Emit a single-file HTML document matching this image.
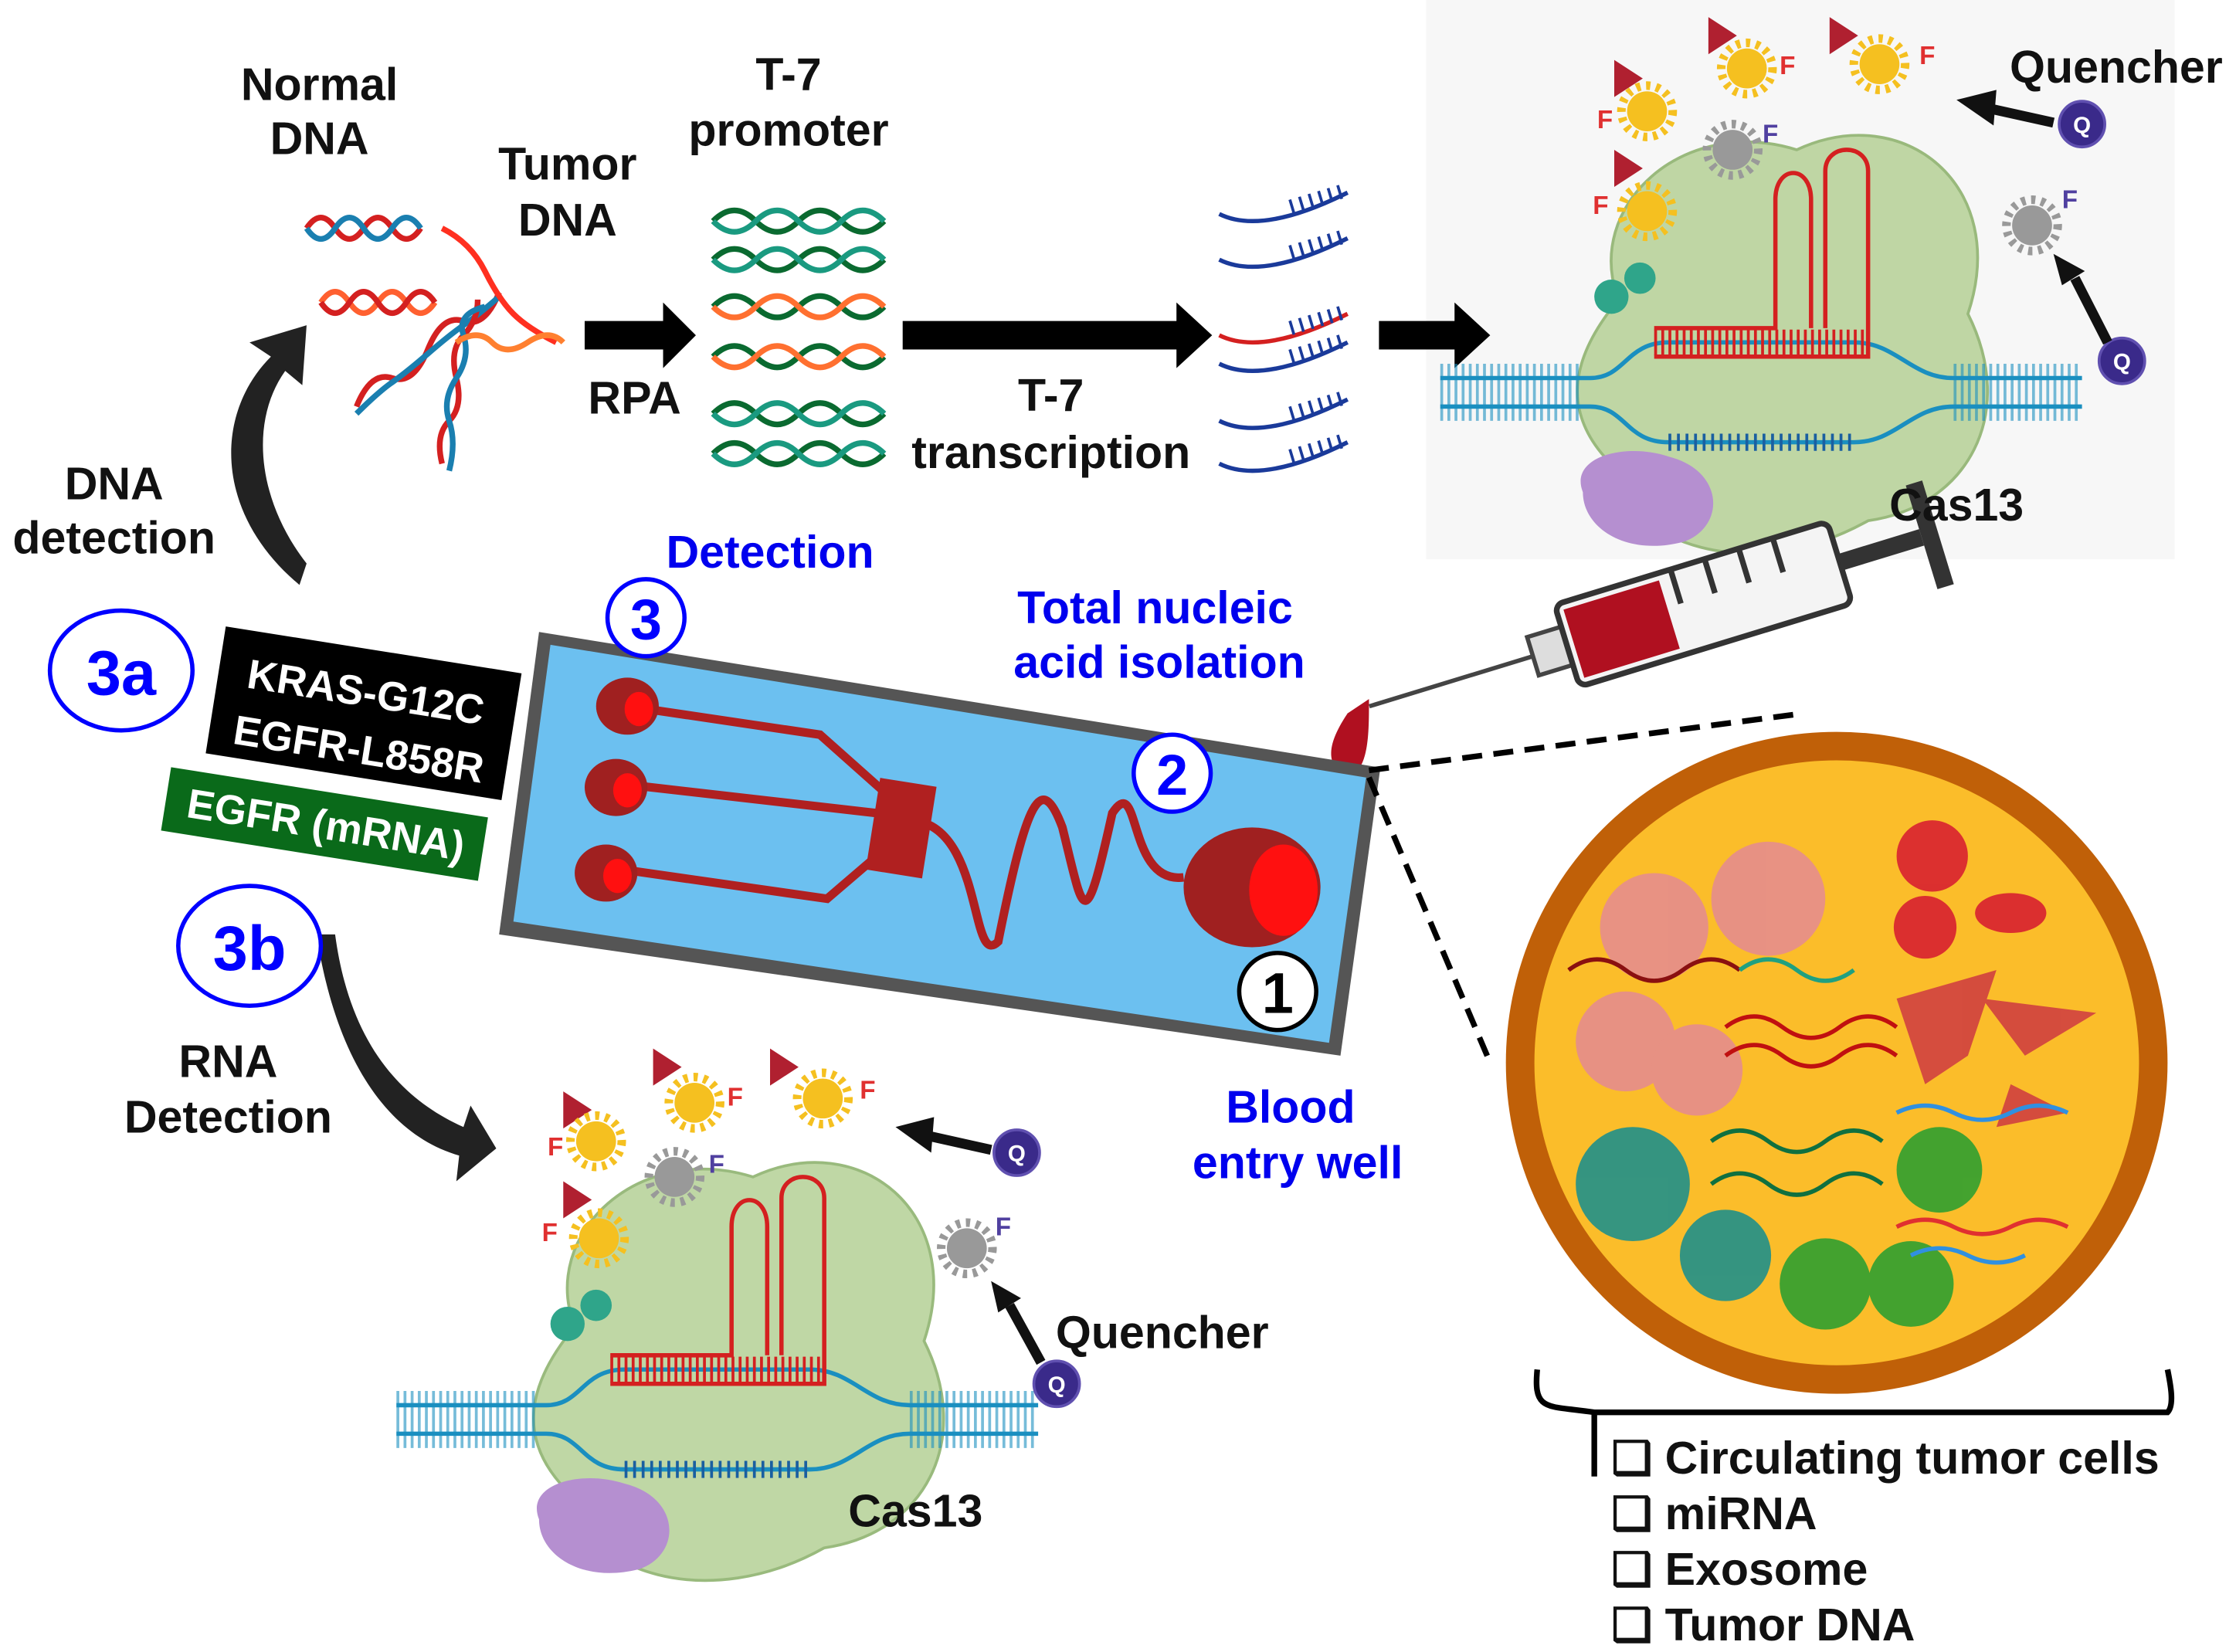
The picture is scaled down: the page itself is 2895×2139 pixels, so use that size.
<!DOCTYPE html>
<html><head><meta charset="utf-8"><style>
html,body{margin:0;padding:0;background:#fff}
svg{display:block}
text{font-family:"Liberation Sans",sans-serif;font-weight:bold}
</style></head><body>
<svg width="2895" height="2139" viewBox="0 0 1568 1158" preserveAspectRatio="none" xmlns="http://www.w3.org/2000/svg">
<defs>
<g id="cas">
  <path d="M125,150 C100,85 170,20 250,45 C325,10 400,70 370,160 C405,230 370,295 300,305 C220,350 130,325 115,260 C80,220 100,180 125,150Z" fill="#b9d39c" stroke="#8fb36f" stroke-width="2" opacity="0.9"/>
  <path d="M0,205 L105,205 C130,205 130,180 160,180 L290,180 C320,180 330,205 360,205 L450,205" fill="none" stroke="#1a8fc0" stroke-width="3"/>
  <path d="M0,225 L105,225 C130,225 130,250 160,250 L290,250 C320,250 330,225 360,225 L450,225" fill="none" stroke="#1a8fc0" stroke-width="3"/>
  <path d="M0,205 h100 M0,225 h100 M360,205 h90 M360,225 h90" stroke="#1a8fc0" stroke-width="20" stroke-dasharray="2,3" fill="none" opacity="0.6"/>
  <path d="M160,250 h130" stroke="#1a5fa0" stroke-width="12" stroke-dasharray="2,4" fill="none"/>
  <path d="M150,190 L300,190 L300,60 C300,40 270,40 270,60 L270,170 M260,170 L260,80 C260,55 235,55 235,80 L235,170 L150,170" fill="none" stroke="#d42020" stroke-width="3"/>
  <path d="M150,180 h150" stroke="#d42020" stroke-width="18" stroke-dasharray="2,3"/>
  <path d="M100,285 C90,260 130,250 160,260 C200,270 200,310 170,320 C130,330 100,310 100,285Z" fill="#b58fd0"/>
  <circle cx="120" cy="148" r="12" fill="#2fa58a"/><circle cx="140" cy="135" r="11" fill="#2fa58a"/>
</g>
<g id="flu"><circle r="14" fill="#f5c020"/><circle r="18" fill="none" stroke="#f5c020" stroke-width="6" stroke-dasharray="3,4"/></g>
<g id="gra"><circle r="14" fill="#999"/><circle r="18" fill="none" stroke="#999" stroke-width="6" stroke-dasharray="3,4"/></g>
<g id="q"><circle r="16" fill="#3a2a8a" stroke="#6050b0" stroke-width="2"/><text y="6" text-anchor="middle" font-size="16" fill="#fff">Q</text></g>
</defs>

<rect x="1000" y="0" width="525" height="392" fill="#f7f7f7"/>

<!-- top DNA -->
<g fill="none" stroke-width="4">
<path d="M215,160 q10,-15 20,0 t20,0 t20,0 t20,0" stroke="#d42020"/>
<path d="M215,160 q10,15 20,0 t20,0 t20,0 t20,0" stroke="#1a7fb0"/>
<path d="M225,212 q10,-15 20,0 t20,0 t20,0 t20,0" stroke="#ff6030"/>
<path d="M225,212 q10,15 20,0 t20,0 t20,0 t20,0" stroke="#d42020"/>
<path d="M250,285 q10,-25 25,-20 t25,-20 t25,-20 t25,-20" stroke="#d42020"/>
<path d="M250,290 q15,-15 25,-22 t25,-20 t25,-20 t25,-20" stroke="#1a7fb0"/>
<path d="M310,325 q-5,-20 5,-30 t5,-30 t5,-30 t10,-25" stroke="#d42020"/>
<path d="M315,330 q5,-20 0,-35 t5,-30 t5,-30 t15,-20" stroke="#1a7fb0"/>
<path d="M310,160 q20,10 30,30 t20,30 t30,20" stroke="#ff3020"/>
<path d="M320,240 q15,-10 25,0 t25,0 t25,0" stroke="#ff8030"/>
</g>
<g fill="none" stroke-width="4">
<path d="M500,155 q15,-15 30,0 t30,0 t30,0 t30,0" stroke="#0a6a30"/><path d="M500,155 q15,15 30,0 t30,0 t30,0 t30,0" stroke="#1a9a80"/>
<path d="M500,182 q15,-15 30,0 t30,0 t30,0 t30,0" stroke="#0a6a30"/><path d="M500,182 q15,15 30,0 t30,0 t30,0 t30,0" stroke="#1a9a80"/>
<path d="M500,215 q15,-15 30,0 t30,0 t30,0 t30,0" stroke="#0a6a30"/><path d="M500,215 q15,15 30,0 t30,0 t30,0 t30,0" stroke="#ff7030"/>
<path d="M500,250 q15,-15 30,0 t30,0 t30,0 t30,0" stroke="#0a6a30"/><path d="M500,250 q15,15 30,0 t30,0 t30,0 t30,0" stroke="#ff7030"/>
<path d="M500,290 q15,-15 30,0 t30,0 t30,0 t30,0" stroke="#0a6a30"/><path d="M500,290 q15,15 30,0 t30,0 t30,0 t30,0" stroke="#1a9a80"/>
<path d="M500,318 q15,-15 30,0 t30,0 t30,0 t30,0" stroke="#0a6a30"/><path d="M500,318 q15,15 30,0 t30,0 t30,0 t30,0" stroke="#1a9a80"/>
</g>
<g fill="none" stroke="#1a3a9a" stroke-width="3">
<path d="M855,150 q30,15 90,-15"/><path d="M855,182 q30,15 90,-15"/><path d="M855,235 q30,15 90,-15" stroke="#d42020"/><path d="M855,255 q30,15 90,-15"/><path d="M855,295 q30,15 90,-15"/><path d="M855,325 q30,15 90,-15"/>
</g>
<g stroke="#1a3a9a" stroke-width="10" stroke-dasharray="2,5" fill="none"><path d="M905,145 l40,-12"/><path d="M905,177 l40,-12"/><path d="M905,230 l40,-12"/><path d="M905,250 l40,-12"/><path d="M905,290 l40,-12"/><path d="M905,320 l40,-12"/></g>
<!-- arrows -->
<polygon points="410,225 465,225 465,212 488,235 465,258 465,245 410,245" fill="#000"/>
<polygon points="633,225 825,225 825,212 850,235 825,258 825,245 633,245" fill="#000"/>
<polygon points="967,225 1020,225 1020,212 1045,235 1020,258 1020,245 967,245" fill="#000"/>
<path d="M210,410 C150,360 150,290 190,250 L175,240 L215,228 L212,270 L200,260 C175,295 180,350 215,395 Z" fill="#222"/>
<path d="M235,655 C245,730 280,770 325,790 L330,775 L348,805 L320,828 L322,810 C270,795 235,740 222,655 Z" fill="#222"/>

<use href="#cas" x="1010" y="60"/>
<use href="#cas" x="278" y="780"/>

<g fill="#b02030">
<polygon points="1132,42 1152,55 1132,68"/><polygon points="1132,105 1152,118 1132,131"/><polygon points="1198,12 1218,25 1198,38"/><polygon points="1283,12 1303,25 1283,38"/>
<polygon points="395,765 415,778 395,791"/><polygon points="395,828 415,841 395,854"/><polygon points="458,735 478,748 458,761"/><polygon points="540,735 560,748 540,761"/>
</g>
<use href="#flu" x="1155" y="78"/><use href="#flu" x="1225" y="48"/><use href="#flu" x="1318" y="45"/><use href="#flu" x="1155" y="148"/><use href="#gra" x="1215" y="105"/><use href="#gra" x="1425" y="158"/>
<use href="#flu" x="418" y="800"/><use href="#flu" x="487" y="773"/><use href="#flu" x="577" y="770"/><use href="#flu" x="420" y="868"/><use href="#gra" x="473" y="825"/><use href="#gra" x="678" y="875"/>
<g font-size="18" fill="#e03030"><text x="1120" y="90">F</text><text x="1248" y="52">F</text><text x="1346" y="45">F</text><text x="1117" y="150">F</text><text x="384" y="810">F</text><text x="510" y="775">F</text><text x="603" y="770">F</text><text x="380" y="870">F</text></g>
<g font-size="18" fill="#5040a0"><text x="1236" y="100">F</text><text x="1446" y="146">F</text><text x="497" y="822">F</text><text x="698" y="866">F</text></g>
<use href="#q" x="1460" y="87"/><use href="#q" x="1488" y="253"/><use href="#q" x="713" y="808"/><use href="#q" x="741" y="970"/>
<g stroke="#111" stroke-width="7" fill="#111">
<line x1="1440" y1="86" x2="1395" y2="76"/><polygon points="1372,70 1400,63 1398,88" stroke="none"/>
<line x1="1478" y1="240" x2="1455" y2="195"/><polygon points="1440,178 1462,190 1446,200" stroke="none"/>
<line x1="695" y1="806" x2="650" y2="796"/><polygon points="628,790 655,783 653,808" stroke="none"/>
<line x1="730" y1="955" x2="708" y2="915"/><polygon points="695,898 716,910 700,920" stroke="none"/>
</g>

<!-- syringe -->
<g transform="translate(1075,460) rotate(-17)">
<line x1="-120" y1="0" x2="0" y2="0" stroke="#444" stroke-width="3"/>
<rect x="0" y="-14" width="25" height="28" fill="#ddd" stroke="#444" stroke-width="3"/>
<rect x="25" y="-30" width="200" height="60" rx="6" fill="#f4f4f4" stroke="#333" stroke-width="4"/>
<rect x="30" y="-25" width="70" height="50" fill="#b01020"/>
<path d="M110,-30 v25 M135,-30 v25 M160,-30 v25 M185,-30 v25" stroke="#333" stroke-width="4"/>
<rect x="225" y="-6" width="60" height="12" fill="#333"/>
<rect x="285" y="-38" width="12" height="76" fill="#333"/>
</g>
<path d="M945,500 C935,515 925,535 945,545 C960,540 960,515 960,490 Z" fill="#b01020"/>

<!-- chip -->
<polygon points="378,443 968,538 940,740 350,655" fill="#555"/>
<polygon points="386,452 958,545 932,731 360,646" fill="#6cc0f0"/>
<g fill="none" stroke="#b02020" stroke-width="6">
<path d="M440,495 L575,515 L620,555"/><path d="M440,550 L615,570"/><path d="M440,610 L580,630 L615,600"/>
<path d="M640,575 C690,580 680,680 700,660 C720,560 730,540 745,580 C760,640 760,660 780,570 C800,540 790,620 830,615"/>
</g>
<rect x="612" y="548" width="40" height="65" fill="#b02020" transform="rotate(9 632 580)"/>
<g fill="#a02020"><ellipse cx="440" cy="495" rx="22" ry="20"/><ellipse cx="432" cy="552" rx="22" ry="20"/><ellipse cx="425" cy="612" rx="22" ry="20"/><ellipse cx="878" cy="622" rx="48" ry="42"/></g>
<g fill="#ff1010"><ellipse cx="448" cy="497" rx="10" ry="12"/><ellipse cx="440" cy="554" rx="10" ry="12"/><ellipse cx="433" cy="614" rx="10" ry="12"/><ellipse cx="900" cy="624" rx="24" ry="32"/></g>
<circle cx="453" cy="433" r="27" fill="#fff" stroke="#00f" stroke-width="3"/><text x="453" y="448" font-size="40" text-anchor="middle" fill="#00f">3</text>
<circle cx="822" cy="542" r="27" fill="#fff" stroke="#00f" stroke-width="3"/><text x="822" y="557" font-size="40" text-anchor="middle" fill="#00f">2</text>
<circle cx="896" cy="695" r="27" fill="#fff" stroke="#000" stroke-width="3"/><text x="896" y="710" font-size="40" text-anchor="middle" fill="#000">1</text>

<path d="M960,540 L1265,500 M960,545 L1045,745" stroke="#000" stroke-width="4" stroke-dasharray="14,8"/>

<!-- blood circle -->
<circle cx="1288" cy="745" r="232" fill="#c06008"/>
<circle cx="1288" cy="745" r="212" fill="#fbbd2a"/>
<g opacity="0.9">
<circle cx="1240" cy="630" r="40" fill="#e58d8d"/><circle cx="1160" cy="650" r="38" fill="#e58d8d"/><circle cx="1140" cy="730" r="35" fill="#e58d8d"/><circle cx="1190" cy="750" r="32" fill="#e58d8d"/>
<circle cx="1355" cy="600" r="25" fill="#d82030"/><circle cx="1350" cy="650" r="22" fill="#d82030"/><ellipse cx="1410" cy="640" rx="25" ry="14" fill="#d82030"/>
<polygon points="1330,700 1400,680 1380,740 1350,760" fill="#d04040"/><polygon points="1390,700 1470,710 1420,740" fill="#d04040"/><polygon points="1410,760 1450,780 1400,790" fill="#d04040"/>
<circle cx="1145" cy="830" r="40" fill="#20908a"/><circle cx="1210" cy="880" r="32" fill="#20908a"/>
<circle cx="1360" cy="820" r="30" fill="#30a030"/><circle cx="1280" cy="900" r="32" fill="#30a030"/><circle cx="1340" cy="900" r="30" fill="#30a030"/>
</g>
<g fill="none" stroke-width="3">
<path d="M1100,680 q20,-15 40,0 t40,0 t40,0" stroke="#8a1010"/><path d="M1220,680 q20,-15 40,0 t40,0" stroke="#20a080"/>
<path d="M1210,720 q20,-15 40,0 t40,0 t40,0" stroke="#c01010"/><path d="M1210,740 q20,-15 40,0 t40,0 t40,0" stroke="#c01010"/>
<path d="M1200,800 q20,-15 40,0 t40,0 t40,0" stroke="#107040"/><path d="M1200,830 q20,-15 40,0 t40,0 t40,0" stroke="#107040"/>
<path d="M1330,780 q20,-10 40,0 t40,0 t40,0" stroke="#3090e0"/><path d="M1330,860 q20,-10 40,0 t40,0 t40,0" stroke="#e03030"/><path d="M1340,880 q20,-10 40,0 t40,0" stroke="#3090e0"/>
</g>
<path d="M1078,960 C1075,990 1085,985 1118,990 L1118,1035 M1118,990 L1520,990 C1525,985 1522,970 1520,960" fill="none" stroke="#000" stroke-width="4"/>

<!-- labels -->
<rect x="150" y="455" width="210" height="90" fill="#000" transform="rotate(9 255 500)"/>
<text x="255" y="495" font-size="29" fill="#fff" text-anchor="middle" transform="rotate(9 255 495)">KRAS-G12C</text>
<text x="250" y="535" font-size="29" fill="#fff" text-anchor="middle" transform="rotate(9 250 535)">EGFR-L858R</text>
<rect x="115" y="555" width="225" height="45" fill="#0a6a1a" transform="rotate(9 227 578)"/>
<text x="227" y="588" font-size="29" fill="#fff" text-anchor="middle" transform="rotate(9 227 588)">EGFR (mRNA)</text>
<ellipse cx="85" cy="470" rx="50" ry="42" fill="#fff" stroke="#00f" stroke-width="3"/><text x="85" y="487" font-size="44" text-anchor="middle" fill="#00f">3a</text>
<ellipse cx="175" cy="663" rx="50" ry="42" fill="#fff" stroke="#00f" stroke-width="3"/><text x="175" y="680" font-size="44" text-anchor="middle" fill="#00f">3b</text>
<g font-size="32" text-anchor="middle" fill="#111">
<text x="224" y="70">Normal</text><text x="224" y="108">DNA</text>
<text x="398" y="126">Tumor</text><text x="398" y="165">DNA</text>
<text x="553" y="63">T-7</text><text x="553" y="102">promoter</text>
<text x="445" y="290">RPA</text>
<text x="737" y="288">T-7</text><text x="737" y="328">transcription</text>
<text x="1484" y="58">Quencher</text><text x="1372" y="365">Cas13</text>
<text x="80" y="350">DNA</text><text x="80" y="388">detection</text>
<text x="160" y="755">RNA</text><text x="160" y="794">Detection</text>
<text x="815" y="945">Quencher</text><text x="642" y="1070">Cas13</text>
</g>
<g font-size="32" text-anchor="middle" fill="#0000ee">
<text x="540" y="398">Detection</text><text x="810" y="437">Total nucleic</text><text x="813" y="475">acid isolation</text>
<text x="905" y="787">Blood</text><text x="910" y="826">entry well</text>
</g>
<g font-size="32" fill="#111">
<text x="1130" y="1033">❑ Circulating tumor cells</text><text x="1130" y="1072">❑ miRNA</text><text x="1130" y="1111">❑ Exosome</text><text x="1130" y="1150">❑ Tumor DNA</text>
</g>
</svg>
</body></html>
